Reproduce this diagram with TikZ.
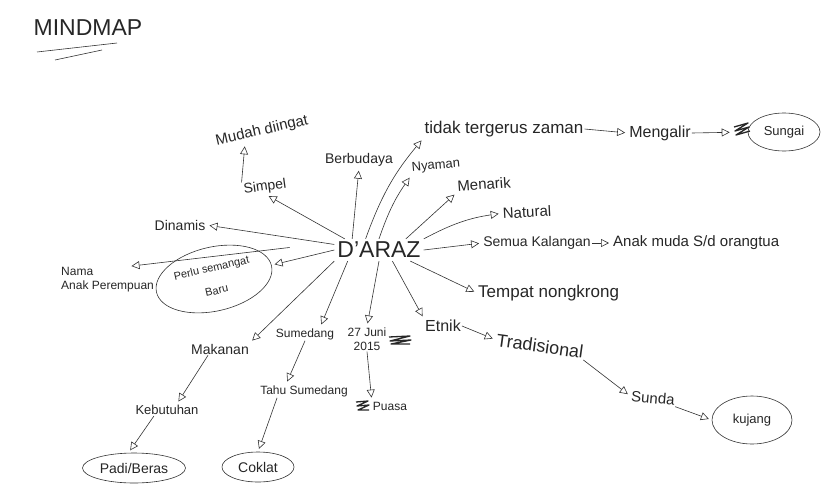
\documentclass[tikz,border=0pt]{standalone}
\usepackage{fontspec}
\setmainfont{Liberation Sans}
\usetikzlibrary{arrows.meta,shapes.geometric,calc}
\newcommand{\fs}[1]{\fontsize{#1}{#1}\selectfont}
\begin{document}
\begin{tikzpicture}[x=1pt,y=-1pt,
  every node/.style={inner sep=1pt, text=black!85},
  lbl/.style={font=\fs{14}},
  ink/.style={draw=black!80, line width=0.6pt},
  arr/.style={ink, shorten >=3pt, -{Triangle[open,length=8pt,width=8pt,line width=0.6pt]}},
  oval/.style={ellipse, ink, inner sep=0pt},
  scribble/.style={draw=black!85, line width=1.3pt, line join=round}
]
\useasboundingbox (0,0) rectangle (837,490);

% title
\node[font=\fs{23}] (title) at (88,28) {MINDMAP};
\coordinate (u1a) at (37,52); \coordinate (u1b) at (117,43);
\coordinate (u2a) at (55,60); \coordinate (u2b) at (102,50);
\draw[ink] (u1a) -- (u1b);
\draw[ink] (u2a) -- (u2b);

% centre
\node[font=\fs{23}, inner sep=3pt] (daraz) at (379,250) {D'ARAZ};

% upper left
\node[font=\fs{15}, rotate=13] (mudah) at (262,131) {Mudah diingat};
\node[lbl, rotate=8] (simpel) at (265,187) {Simpel};
\node[lbl] (dinamis) at (180,225) {Dinamis};
\node[font=\fs{12}, align=left, anchor=west] (nama) at (60,280) {Nama\\[2pt]Anak Perempuan};
\node[oval, rotate=13, minimum width=118pt, minimum height=64pt, align=center, font=\fs{11}] (perlu) at (214,279) {Perlu semangat\\[12pt]Baru};

% upper
\node[font=\fs{14}] (berbudaya) at (359,160) {Berbudaya};
\node[font=\fs{17}] (tidak) at (504,129) {tidak tergerus zaman};
\node[font=\fs{13}, rotate=5] (nyaman) at (436,166) {Nyaman};
\node[font=\fs{16}] (mengalir) at (660,133) {Mengalir};
\node[oval, minimum width=72pt, minimum height=38pt, font=\fs{13}] (sungai) at (784,132) {Sungai};
\node[font=\fs{15}, rotate=4] (menarik) at (484,184) {Menarik};
\node[font=\fs{15}, rotate=3] (natural) at (527,212) {Natural};
\node[lbl] (semua) at (537,243) {Semua Kalangan};
\node[font=\fs{15}, anchor=west] (anak) at (612,243) {Anak muda S/d orangtua};

% right lower
\node[font=\fs{17}, anchor=west] (tempat) at (477,293) {Tempat nongkrong};
\node[font=\fs{16}] (etnik) at (443,326) {Etnik};
\node[font=\fs{18}, rotate=-8] (tradisional) at (540,346) {Tradisional};
\node[font=\fs{15}, rotate=-5] (sunda) at (653,398) {Sunda};
\node[oval, minimum width=80pt, minimum height=48pt, font=\fs{13}] (kujang) at (752,420) {kujang};

% lower
\node[lbl] (makanan) at (220,349) {Makanan};
\node[font=\fs{13}] (kebutuhan) at (167,410) {Kebutuhan};
\node[oval, minimum width=103pt, minimum height=30pt, font=\fs{14}] (padi) at (134,468) {Padi/Beras};
\node[font=\fs{12}] (sumedang) at (305,334) {Sumedang};
\node[font=\fs{12}] (tahu) at (304,391) {Tahu Sumedang};
\node[oval, minimum width=72pt, minimum height=30pt, font=\fs{14}] (coklat) at (258,467) {Coklat};
\node[font=\fs{12}, align=center] (juni) at (367,339) {27 Juni\\[2pt]2015};
\node[font=\fs{12}] (puasa) at (390,406) {Puasa};

% scribbles (crossed-out writing)
\draw[scribble] (734,127) -- (748,123) -- (735,131) -- (749,127) -- (736,135) -- (750,131);
\draw[scribble] (389,337) -- (410,336) -- (390,341) -- (411,340) -- (391,344) -- (410,344);
\draw[scribble] (356,402) -- (368,401) -- (357,406) -- (369,405) -- (358,410) -- (369,410);

% connectors from the centre
\draw[arr] (daraz.162) -- (simpel.south);
\draw[arr] (simpel.north west) -- ($(mudah.south west)!0.3!(mudah.south east)$);
\draw[arr] ($(daraz.north west)!0.4!(daraz.north)$) -- (berbudaya.south);
\draw[arr] ($(daraz.north)!0.3!(daraz.north west)$) to[bend left=10] (tidak.south west);
\draw[arr] (daraz.north) to[bend left=8] (nyaman.south west);
\draw[arr] ($(daraz.north)!0.6!(daraz.north east)$) -- (menarik.south west);
\draw[arr] (daraz.north east) to[bend left=10] (natural.west);
\draw[arr] (daraz.east) -- (semua.west);
\draw[arr] (semua.east) -- (anak.west);
\draw[arr] (tidak.east) -- (mengalir.west);
\draw[arr, shorten >=18pt] (mengalir.east) -- (sungai.west);
\draw[arr] ($(daraz.south)!0.7!(daraz.south east)$) -- (tempat.west);
\draw[arr] ($(daraz.south)!0.3!(daraz.south east)$) -- (etnik.north west);
\draw[arr] (etnik.east) -- (tradisional.west);
\draw[arr] (tradisional.south east) -- (sunda.west);
\draw[arr] (sunda.south east) -- (kujang.west);
\draw[arr] (daraz.south) -- (juni.north);
\draw[arr] (juni.south) -- (puasa.north west);
\draw[arr] ($(daraz.south)!0.7!(daraz.south west)$) -- ($(sumedang.north)!0.5!(sumedang.north east)$);
\draw[arr] (sumedang.south) -- ($(tahu.north)!0.4!(tahu.north west)$);
\draw[arr] ($(tahu.south west)!0.4!(tahu.south)$) -- (coklat.north);
\draw[arr] (daraz.south west) -- (makanan.north east);
\draw[arr] ($(makanan.south)!0.4!(makanan.south west)$) -- ($(kebutuhan.north)!0.3!(kebutuhan.north east)$);
\draw[arr] ($(kebutuhan.south)!0.4!(kebutuhan.south west)$) -- (padi.110);
\draw[arr] (daraz.west) -- (perlu);
\draw[arr] ($(daraz.west)!0.5!(daraz.north west)$) -- (dinamis.east);
\draw[arr, shorten <=45pt] ($(daraz.west)!0.7!(daraz.north west)$) -- ($(nama.north west)!0.72!(nama.north east)$);
\end{tikzpicture}
\end{document}
